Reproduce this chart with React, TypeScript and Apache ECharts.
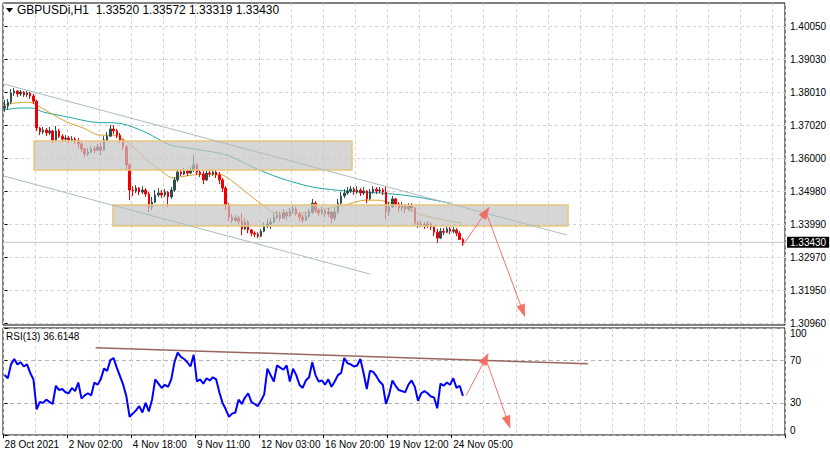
import React, { useEffect, useRef } from 'react';
import * as echarts from 'echarts';

// ---------- data ----------
const N_SLOTS = 244; // slots across the plot (3.2 h each)
const LABEL_EVERY = 20;
const GRID_EVERY = 10;
const X_TICK_LABELS = ['28 Oct 2021', '2 Nov 02:00', '4 Nov 18:00', '9 Nov 11:00', '12 Nov 03:00', '16 Nov 20:00', '19 Nov 12:00', '24 Nov 05:00'];
const PRICE_TICKS = [1.3096, 1.3195, 1.3297, 1.3399, 1.3498, 1.36, 1.3702, 1.3801, 1.3903, 1.4005];
const PRICE_MIN = 1.30901;
const PRICE_MAX = 1.40754;
const RSI_TICKS = [0, 30, 70, 100];
const LAST_PRICE = 1.3343;

const OPEN_FIRST = 1.3754;
const CLOSE = [
  1.3760, 1.3772, 1.3800, 1.3806, 1.3797, 1.3803, 1.3794, 1.3800, 1.3791, 1.3775,
  1.3693, 1.3681, 1.3687, 1.3678, 1.3684, 1.3656, 1.3684, 1.3668, 1.3659, 1.3662,
  1.3656, 1.3659, 1.3653, 1.3644, 1.3629, 1.3613, 1.3619, 1.3629, 1.3625, 1.3635,
  1.3625, 1.3656, 1.3668, 1.3690, 1.3684, 1.3671, 1.3656, 1.3635, 1.3580, 1.3503,
  1.3500, 1.3509, 1.3497, 1.3503, 1.3491, 1.3451, 1.3466, 1.3488, 1.3494, 1.3488,
  1.3497, 1.3482, 1.3503, 1.3534, 1.3558, 1.3552, 1.3561, 1.3555, 1.3564, 1.3580,
  1.3558, 1.3552, 1.3534, 1.3555, 1.3552, 1.3558, 1.3549, 1.3534, 1.3509, 1.3457,
  1.3420, 1.3411, 1.3417, 1.3408, 1.3384, 1.3405, 1.3381, 1.3371, 1.3368, 1.3362,
  1.3377, 1.3393, 1.3399, 1.3405, 1.3420, 1.3427, 1.3417, 1.3433, 1.3424, 1.3439,
  1.3445, 1.3430, 1.3420, 1.3411, 1.3424, 1.3436, 1.3463, 1.3442, 1.3433, 1.3439,
  1.3430, 1.3436, 1.3417, 1.3436, 1.3463, 1.3485, 1.3494, 1.3500, 1.3506, 1.3497,
  1.3503, 1.3494, 1.3500, 1.3476, 1.3497, 1.3506, 1.3500, 1.3503, 1.3497, 1.3436,
  1.3451, 1.3476, 1.3460, 1.3448, 1.3457, 1.3445, 1.3454, 1.3448, 1.3402, 1.3396,
  1.3399, 1.3393, 1.3399, 1.3390, 1.3374, 1.3356, 1.3377, 1.3374, 1.3384, 1.3377,
  1.3381, 1.3371, 1.3352, 1.3343,
];
const HIGH = [
  1.3779, 1.3782, 1.3812, 1.3815, 1.3809, 1.3809, 1.3806, 1.3806, 1.3803, 1.3797,
  1.3779, 1.3696, 1.3696, 1.3693, 1.3696, 1.3687, 1.3699, 1.3690, 1.3674, 1.3671,
  1.3668, 1.3668, 1.3665, 1.3662, 1.3650, 1.3632, 1.3632, 1.3638, 1.3638, 1.3644,
  1.3647, 1.3668, 1.3681, 1.3702, 1.3702, 1.3690, 1.3678, 1.3659, 1.3641, 1.3586,
  1.3515, 1.3518, 1.3512, 1.3515, 1.3509, 1.3497, 1.3482, 1.3503, 1.3509, 1.3503,
  1.3506, 1.3500, 1.3512, 1.3543, 1.3567, 1.3567, 1.3570, 1.3567, 1.3573, 1.3610,
  1.3586, 1.3567, 1.3561, 1.3564, 1.3564, 1.3567, 1.3564, 1.3558, 1.3540, 1.3515,
  1.3463, 1.3430, 1.3427, 1.3424, 1.3433, 1.3417, 1.3411, 1.3384, 1.3377, 1.3374,
  1.3384, 1.3405, 1.3414, 1.3417, 1.3433, 1.3439, 1.3436, 1.3445, 1.3439, 1.3448,
  1.3457, 1.3451, 1.3436, 1.3430, 1.3436, 1.3445, 1.3476, 1.3469, 1.3448, 1.3451,
  1.3445, 1.3448, 1.3439, 1.3448, 1.3476, 1.3497, 1.3506, 1.3512, 1.3515, 1.3512,
  1.3515, 1.3509, 1.3512, 1.3503, 1.3506, 1.3515, 1.3512, 1.3512, 1.3509, 1.3515,
  1.3466, 1.3485, 1.3479, 1.3466, 1.3466, 1.3460, 1.3463, 1.3463, 1.3451, 1.3408,
  1.3408, 1.3405, 1.3408, 1.3405, 1.3393, 1.3384, 1.3387, 1.3387, 1.3393, 1.3390,
  1.3390, 1.3387, 1.3377, 1.3357,
];
const LOW = [
  1.3742, 1.3748, 1.3766, 1.3791, 1.3788, 1.3791, 1.3788, 1.3788, 1.3782, 1.3766,
  1.3684, 1.3671, 1.3674, 1.3668, 1.3671, 1.3647, 1.3653, 1.3662, 1.3650, 1.3653,
  1.3647, 1.3650, 1.3644, 1.3632, 1.3619, 1.3604, 1.3607, 1.3616, 1.3616, 1.3622,
  1.3610, 1.3622, 1.3653, 1.3665, 1.3674, 1.3662, 1.3647, 1.3625, 1.3564, 1.3472,
  1.3485, 1.3494, 1.3488, 1.3491, 1.3482, 1.3436, 1.3442, 1.3463, 1.3482, 1.3479,
  1.3482, 1.3451, 1.3476, 1.3497, 1.3528, 1.3546, 1.3549, 1.3546, 1.3552, 1.3558,
  1.3549, 1.3543, 1.3521, 1.3531, 1.3543, 1.3546, 1.3540, 1.3521, 1.3497, 1.3442,
  1.3408, 1.3402, 1.3405, 1.3399, 1.3365, 1.3381, 1.3371, 1.3362, 1.3359, 1.3356,
  1.3359, 1.3374, 1.3387, 1.3384, 1.3402, 1.3414, 1.3408, 1.3414, 1.3411, 1.3420,
  1.3430, 1.3424, 1.3408, 1.3402, 1.3408, 1.3417, 1.3430, 1.3433, 1.3424, 1.3427,
  1.3420, 1.3420, 1.3402, 1.3408, 1.3430, 1.3457, 1.3479, 1.3488, 1.3494, 1.3488,
  1.3491, 1.3485, 1.3488, 1.3463, 1.3473, 1.3491, 1.3491, 1.3494, 1.3488, 1.3414,
  1.3424, 1.3448, 1.3451, 1.3436, 1.3439, 1.3433, 1.3439, 1.3436, 1.3393, 1.3387,
  1.3390, 1.3384, 1.3387, 1.3381, 1.3362, 1.3341, 1.3353, 1.3365, 1.3371, 1.3368,
  1.3371, 1.3362, 1.3350, 1.3332,
];
const RSI = [
  56, 53, 66, 71, 66, 68, 64, 66, 58, 52,
  24, 31, 30, 33, 31, 29, 46, 42, 43, 40,
  39, 44, 41, 49, 34, 37, 39, 37, 49, 47,
  52, 62, 60, 70, 72, 63, 55, 47, 36, 17,
  20, 23, 27, 21, 30, 22, 33, 52, 48, 44,
  47, 45, 52, 68, 77, 73, 71, 68, 64, 75,
  50, 52, 48, 53, 51, 54, 52, 40, 30, 24,
  17, 20, 21, 33, 29, 35, 39, 31, 29, 27,
  32, 38, 62, 56, 50, 65, 63, 61, 65, 50,
  62, 56, 47, 44, 51, 54, 68, 56, 50, 51,
  47, 52, 45, 50, 56, 58, 72, 67, 66, 64,
  65, 71, 58, 43, 60, 59, 55, 50, 47, 29,
  38, 51, 46, 42, 41, 40, 47, 51, 45, 32,
  39, 41, 39, 36, 35, 25, 48, 46, 49, 47,
  53, 44, 46, 36.6148,
];

// moving averages, sampled along the curve: [slot, price]
const MA_FAST: [number, number][] = [
  [-0.5, 1.3763], [3.2, 1.3769], [7.0, 1.3772], [8.9, 1.3769], [10.1, 1.3763], [14.2, 1.3739],
  [19.5, 1.3711], [24.5, 1.3693], [29.8, 1.3671], [33.8, 1.3671], [36.0, 1.3665], [40.1, 1.3635],
  [44.4, 1.3595], [48.5, 1.3564], [52.5, 1.3540], [54.7, 1.3543], [58.8, 1.3549], [65.0, 1.3552],
  [68.1, 1.3549], [73.4, 1.3512], [79.7, 1.3463], [85.0, 1.3433], [89.0, 1.3433], [96.2, 1.3436],
  [101.5, 1.3448], [106.2, 1.3457], [112.5, 1.3472], [116.5, 1.3472], [119.6, 1.3466], [124.9, 1.3451],
  [130.2, 1.3427], [137.4, 1.3411], [142.7, 1.3402],
];
const MA_SLOW: [number, number][] = [
  [-0.5, 1.3748], [4.8, 1.3754], [8.5, 1.3754], [12.0, 1.3742], [19.5, 1.3727], [27.6, 1.3711],
  [35.1, 1.3708], [38.2, 1.3702], [44.4, 1.3678], [51.6, 1.3641], [56.9, 1.3632], [69.4, 1.3610],
  [77.5, 1.3573], [85.9, 1.3540], [96.2, 1.3512], [106.8, 1.3500], [117.1, 1.3494], [126.5, 1.3485],
  [139.0, 1.3463],
];

// drawn objects: [slot, price]
const CHANNEL_UPPER: [number, number][] = [[-0.5, 1.38281], [175.5, 1.33653]];
const CHANNEL_LOWER: [number, number][] = [[-0.5, 1.35465], [114.0, 1.3246]];
const ZONES: [number, number, number, number][] = [
  [9.2, 1.3653, 108.4, 1.35643],
  [33.8, 1.34572, 175.8, 1.33929],
];
const PRICE_ARROWS: [[number, number], [number, number]][] = [
  [[143.0, 1.33347], [150.2, 1.34357]],
  [[150.2, 1.34357], [161.7, 1.31327]],
];
const RSI_TREND: [number, number][] = [[28.4, 81.6], [182.0, 66.6]];
const RSI_ARROWS: [[number, number], [number, number]][] = [
  [[144.0, 36.9], [150.1, 71.6]],
  [[150.1, 71.6], [157.1, 11.8]],
];

const FONT = "'Liberation Sans', Arial, sans-serif";
const FS = 10;
const TITLE_FS = 12;

export default function App() {
  const ref = useRef<HTMLDivElement>(null);
  useEffect(() => {
    if (!ref.current) return;
    const chart = echarts.init(ref.current, null, { renderer: 'svg' });

    const categories = Array.from({ length: N_SLOTS }, (_, i) =>
      i % LABEL_EVERY === 0 && i / LABEL_EVERY < X_TICK_LABELS.length ? X_TICK_LABELS[i / LABEL_EVERY] : ''
    );
    const candles = CLOSE.map((c, i) => [i === 0 ? OPEN_FIRST : CLOSE[i - 1], c, LOW[i], HIGH[i]]);

    const gridLine = { show: true, lineStyle: { color: '#d2d2d2', type: [3, 3] as any, width: 1 } };
    const showLabel = (_i: number, v: string) => v !== '';
    const arrowStyle = {
      silent: true,
      symbol: ['none', 'triangle'],
      symbolSize: [9, 13],
      lineStyle: { color: '#f2665a', width: 1, type: 'solid', opacity: 0.9 },
      itemStyle: { color: '#f2665a' },
      label: { show: false },
      emphasis: { disabled: true },
    };

    chart.setOption({
      animation: false,
      backgroundColor: '#ffffff',
      title: [
        {
          text: 'GBPUSDi,H1  1.33520 1.33572 1.33319 1.33430',
          left: 17, top: 4, padding: 0,
          textStyle: { fontSize: TITLE_FS, fontWeight: 'normal', color: '#000', fontFamily: FONT },
        },
        {
          text: 'RSI(13) 36.6148',
          left: 6, top: 331, padding: 0,
          textStyle: { fontSize: FS, fontWeight: 'normal', color: '#000', fontFamily: FONT },
        },
      ],
      graphic: [
        { type: 'polygon', shape: { points: [[6, 8], [13, 8], [9.5, 12.5]] }, style: { fill: '#000' }, silent: true },
      ],
      grid: [
        { left: 3, top: 3, width: 782, height: 322, show: true, borderColor: '#000', borderWidth: 1, backgroundColor: '#fff', outerBoundsMode: 'none' },
        { left: 3, top: 328, width: 782, height: 107, show: true, borderColor: '#000', borderWidth: 1, backgroundColor: '#fff', outerBoundsMode: 'none' },
      ],
      xAxis: [
        {
          type: 'category', gridIndex: 0, data: categories, boundaryGap: true,
          axisLine: { show: false }, axisTick: { show: false }, axisLabel: { show: false },
          splitLine: { ...gridLine, interval: GRID_EVERY - 1 },
        },
        {
          type: 'category', gridIndex: 1, data: categories, boundaryGap: true,
          axisLine: { show: false },
          axisTick: { show: true, interval: showLabel, length: 3, lineStyle: { color: '#000' } },
          axisLabel: {
            show: true, interval: showLabel, align: 'left', margin: 4,
            fontSize: FS, color: '#000', fontFamily: FONT,
          },
          splitLine: { ...gridLine, interval: GRID_EVERY - 1 },
        },
        { type: 'value', gridIndex: 0, min: -0.5, max: N_SLOTS - 0.5, show: false },
        { type: 'value', gridIndex: 1, min: -0.5, max: N_SLOTS - 0.5, show: false },
      ],
      yAxis: [
        {
          type: 'value', gridIndex: 0, position: 'right', min: PRICE_MIN, max: PRICE_MAX, scale: true,
          axisLine: { show: false },
          axisTick: { show: true, length: 3, customValues: PRICE_TICKS, lineStyle: { color: '#000' } },
          axisLabel: {
            show: true, customValues: PRICE_TICKS, margin: 5,
            formatter: (v: number) => v.toFixed(5),
            fontSize: FS, color: '#000', fontFamily: FONT,
          },
          splitLine: gridLine,
        },
        {
          type: 'value', gridIndex: 1, position: 'right', min: 0, max: 100,
          axisLine: { show: false },
          axisTick: { show: true, length: 3, customValues: RSI_TICKS, lineStyle: { color: '#000' } },
          axisLabel: {
            show: true, customValues: RSI_TICKS, margin: 5,
            fontSize: FS, color: '#000', fontFamily: FONT,
            verticalAlignMinLabel: 'bottom', verticalAlignMaxLabel: 'top',
          },
          splitLine: { show: true, lineStyle: { color: '#b4b4b4', type: [4, 3] as any, width: 1 } },
        },
      ],
      series: [
        {
          type: 'line', name: 'last price', xAxisIndex: 2, yAxisIndex: 0,
          data: [[-0.5, LAST_PRICE], [N_SLOTS - 0.5, LAST_PRICE]],
          symbol: 'none', z: 1, silent: true,
          lineStyle: { color: '#c4c4c4', width: 1 },
          endLabel: {
            show: true, formatter: () => LAST_PRICE.toFixed(5), distance: 2,
            color: '#fff', backgroundColor: '#000', padding: [1, 3, 0, 3],
            fontSize: FS, fontFamily: FONT,
          },
        },
        {
          type: 'line', name: 'MA slow', xAxisIndex: 2, yAxisIndex: 0, data: MA_SLOW,
          showSymbol: false, symbol: 'none', smooth: 0.3, z: 2, silent: true,
          lineStyle: { color: '#1ea6a6', width: 1 },
        },
        {
          type: 'line', name: 'MA fast', xAxisIndex: 2, yAxisIndex: 0, data: MA_FAST,
          showSymbol: false, symbol: 'none', smooth: 0.3, z: 2, silent: true,
          lineStyle: { color: '#d4a62e', width: 1 },
        },
        {
          type: 'candlestick', name: 'GBPUSDi', xAxisIndex: 0, yAxisIndex: 0, data: candles,
          barWidth: 2, z: 2, silent: true,
          itemStyle: { color: '#2f4f4f', color0: '#f00000', borderColor: '#2f4f4f', borderColor0: '#f00000', borderWidth: 1 },
        },
        {
          type: 'custom', name: 'zones', xAxisIndex: 2, yAxisIndex: 0, data: ZONES, z: 3, silent: true,
          encode: { x: [0, 2], y: [1, 3] },
          renderItem: (_p: any, api: any) => {
            const a = api.coord([api.value(0), api.value(1)]);
            const b = api.coord([api.value(2), api.value(3)]);
            return {
              type: 'rect',
              shape: { x: Math.min(a[0], b[0]), y: Math.min(a[1], b[1]), width: Math.abs(b[0] - a[0]), height: Math.abs(b[1] - a[1]) },
              style: { fill: 'rgba(196,196,196,0.7)', stroke: '#e9c67a', lineWidth: 1.5 },
            };
          },
        },
        {
          type: 'line', name: 'channel lower', xAxisIndex: 2, yAxisIndex: 0, data: CHANNEL_LOWER,
          symbol: 'none', z: 4, silent: true, lineStyle: { color: '#aabcbc', width: 1 },
        },
        {
          type: 'line', name: 'channel upper', xAxisIndex: 2, yAxisIndex: 0, data: CHANNEL_UPPER,
          symbol: 'none', z: 4, silent: true, lineStyle: { color: '#aabcbc', width: 1 },
          markLine: { ...arrowStyle, data: PRICE_ARROWS.map(([a, b]) => [{ coord: a }, { coord: b }]) },
        },
        {
          type: 'line', name: 'RSI', xAxisIndex: 1, yAxisIndex: 1, data: RSI,
          symbol: 'none', z: 2, silent: true, lineStyle: { color: '#0000ff', width: 2 },
        },
        {
          type: 'line', name: 'RSI trend', xAxisIndex: 3, yAxisIndex: 1, data: RSI_TREND,
          symbol: 'none', z: 4, silent: true, lineStyle: { color: '#9a665c', width: 1.5 },
          markLine: { ...arrowStyle, data: RSI_ARROWS.map(([a, b]) => [{ coord: a }, { coord: b }]) },
        },
      ],
    });
    return () => chart.dispose();
  }, []);

  return <div ref={ref} style={{ position: 'absolute', left: 0, top: 0, width: 830, height: 456 }} />;
}
